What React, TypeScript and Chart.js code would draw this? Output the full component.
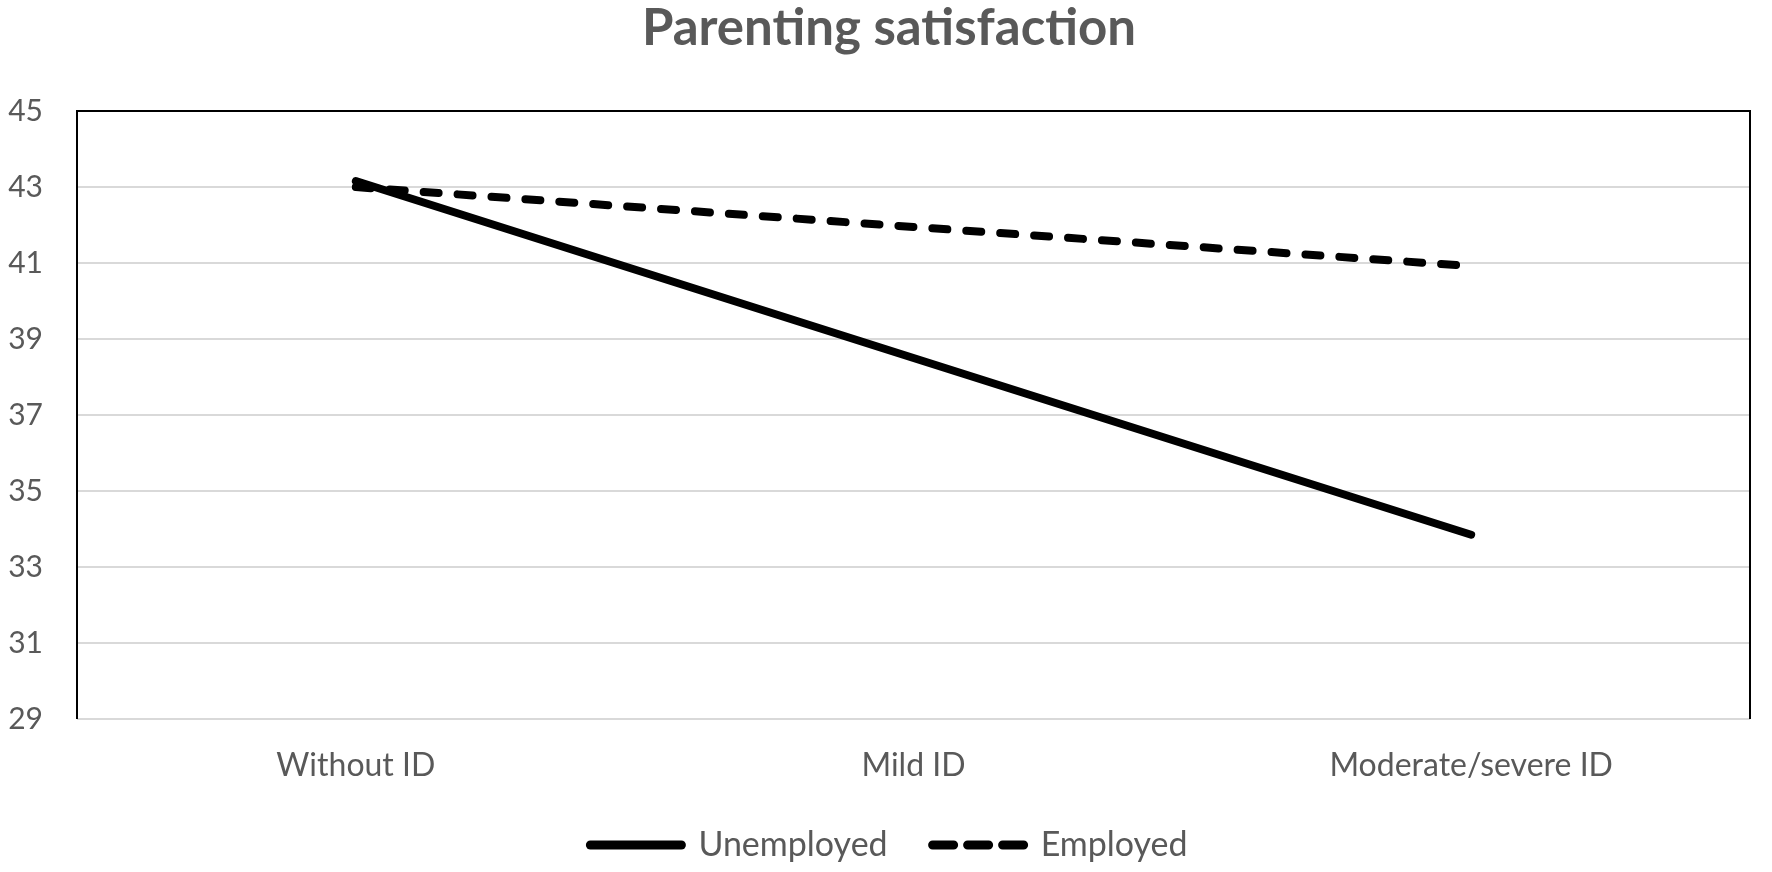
import React, { useEffect, useRef } from "react";
import { Chart, registerables } from "chart.js";

Chart.register(...registerables);

const categories = ["Without ID", "Mild ID", "Moderate/severe ID"];
const unemployedValues = [43.16, 38.5, 33.85];
const employedValues = [43.0, 41.95, 40.92];
const seriesNames = ["Unemployed", "Employed"];
const titleText = "Parenting satisfaction";
const yMin = 29;
const yMax = 45;
const yStep = 2;

const TEXT = "#595959";
const FONT = "Lato, 'Open Sans', sans-serif";
const legendDashes = [[], [21, 14]];

const frame = {
  id: "frame",
  afterDatasetsDraw(chart: any) {
    const { ctx, chartArea } = chart;
    const { left, right, top, bottom } = chartArea;
    ctx.save();
    ctx.strokeStyle = "#000000";
    ctx.lineWidth = 2;
    ctx.beginPath();
    ctx.moveTo(left, bottom);
    ctx.lineTo(left, top);
    ctx.lineTo(right, top);
    ctx.lineTo(right, bottom);
    ctx.stroke();
    ctx.restore();
  },
};

export default function App() {
  const ref = useRef<HTMLCanvasElement | null>(null);
  useEffect(() => {
    document.body.style.margin = "0";
    if (!ref.current) return;
    const chart = new Chart(ref.current, {
      type: "line",
      data: {
        labels: categories,
        datasets: [
          {
            label: seriesNames[0],
            data: unemployedValues,
            borderColor: "#000000",
            backgroundColor: "#000000",
            borderWidth: 8,
            borderCapStyle: "round",
            pointRadius: 0,
            tension: 0,
          },
          {
            label: seriesNames[1],
            data: employedValues,
            borderColor: "#000000",
            backgroundColor: "#000000",
            borderWidth: 8,
            borderDash: [15, 19],
            borderCapStyle: "round",
            pointRadius: 0,
            tension: 0,
          },
        ],
      },
      plugins: [frame],
      options: {
        animation: false,
        responsive: true,
        maintainAspectRatio: false,
        devicePixelRatio: 1,
        layout: { padding: { left: 8, right: 2, top: 0, bottom: 0 } },
        plugins: {
          title: {
            display: true,
            text: titleText,
            color: TEXT,
            font: { family: FONT, size: 51, weight: "bold", lineHeight: 1.1 },
            padding: { top: 0, bottom: 55 },
          },
          legend: {
            position: "bottom",
            labels: {
              color: TEXT,
              font: { family: FONT, size: 34 },
              usePointStyle: true,
              pointStyle: "line",
              pointStyleWidth: 91,
              padding: 45,
              generateLabels: (c: any) =>
                Chart.defaults.plugins.legend.labels
                  .generateLabels(c)
                  .map((l: any, i: number) => ({
                    ...l,
                    lineDash: legendDashes[i] || [],
                    lineCap: "round",
                    lineWidth: 9,
                  })),
            },
          },
          tooltip: { enabled: false },
        },
        scales: {
          x: {
            offset: true,
            grid: { display: false },
            border: { display: false },
            afterFit: (s: any) => {
              s.height = 64;
            },
            ticks: {
              color: TEXT,
              font: { family: FONT, size: 32, lineHeight: 1.0 },
              padding: 23,
              maxRotation: 0,
            },
          },
          y: {
            min: yMin,
            max: yMax,
            afterFit: (s: any) => {
              s.width = 69;
            },
            grid: { color: "#d9d9d9", lineWidth: 2, drawTicks: false },
            border: { display: false },
            ticks: {
              stepSize: yStep,
              color: TEXT,
              font: { family: FONT, size: 30 },
              padding: 34,
            },
          },
          yRight: {
            position: "right",
            min: yMin,
            max: yMax,
            afterFit: (s: any) => {
              s.width = 20;
            },
            grid: { display: false, drawTicks: false },
            border: { display: false },
            ticks: { display: false },
          },
        },
      },
    });
    return () => chart.destroy();
  }, []);
  return (
    <div style={{ width: 1772, height: 872, position: "relative", background: "#fff" }}>
      <canvas ref={ref} />
    </div>
  );
}
